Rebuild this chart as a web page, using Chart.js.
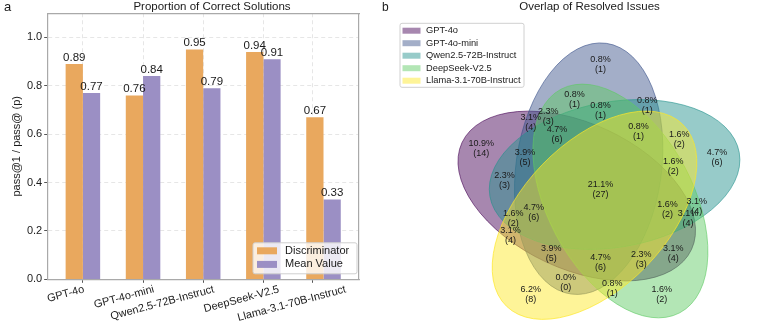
<!DOCTYPE html>
<html>
<head>
<meta charset="utf-8">
<script src="https://cdn.jsdelivr.net/npm/chart.js@4.4.1/dist/chart.umd.min.js"></script>
<style>
  html, body { margin: 0; padding: 0; background: #fff; overflow: hidden; }
  body { width: 761px; height: 325px; position: relative; }
  #barChart { position: absolute; left: 0; top: 0; }
  #vennChart { position: absolute; left: 375px; top: 0; }
</style>
</head>
<body>
<canvas id="barChart" width="424" height="325"></canvas>
<canvas id="vennChart" width="429" height="325"></canvas>
<script>
// ---- panel a data ----
const categories = ['GPT-4o', 'GPT-4o-mini', 'Qwen2.5-72B-Instruct', 'DeepSeek-V2.5', 'Llama-3.1-70B-Instruct'];
const discriminator = [0.89, 0.76, 0.95, 0.94, 0.67];
const meanValue = [0.77, 0.84, 0.79, 0.91, 0.33];
const yTicks = [0, 0.2, 0.4, 0.6, 0.8, 1.0];

// ---- panel b data (region key = membership in the 5 sets, in legend order) ----
const setNames = categories;
const regionKeys = ['00001', '00010', '00011', '00100', '00101', '00110', '00111', '01000', '01001', '01010',
                    '01100', '01110', '01111', '10000', '10001', '10010', '10011', '10100', '10101', '10110',
                    '10111', '11000', '11001', '11010', '11011', '11100', '11101', '11110', '11111'];
const regionPct = [6.2, 1.6, 0.8, 4.7, 1.6, 3.1, 1.6, 0.8, 0.0, 0.8,
                   0.8, 0.8, 0.8, 10.9, 3.1, 3.1, 2.3, 2.3, 1.6, 3.1,
                   1.6, 3.1, 3.9, 2.3, 4.7, 3.9, 4.7, 4.7, 21.1];
const regionCount = [8, 2, 1, 6, 2, 4, 2, 1, 0, 1,
                     1, 1, 1, 14, 4, 4, 3, 3, 2, 4,
                     2, 4, 5, 3, 6, 5, 6, 6, 27];

// ---- layout ----
const xTickPos = [0, 1, 2, 3, 3.82];
const xLabelPos = [0.02, 1.18, 2.18, 3.26, 4.37];
const vennShapes = [[0.428, 0.449, 155], [0.469, 0.543, 82], [0.558, 0.523, 10], [0.578, 0.432, 118], [0.489, 0.383, 46]];
const vennSize = [0.87, 0.50];
const petalPos = {
  '00001': [.27, .11], '00010': [.72, .11], '00011': [.55, .13], '00100': [.91, .58],
  '00101': [.78, .64], '00110': [.84, .41], '00111': [.76, .55], '01000': [.51, .90],
  '01001': [.39, .15], '01010': [.42, .78], '01011': [.50, .15], '01100': [.67, .76],
  '01101': [.70, .71], '01110': [.51, .74], '01111': [.64, .67], '10000': [.10, .61],
  '10001': [.20, .31], '10010': [.76, .25], '10011': [.65, .23], '10100': [.18, .50],
  '10101': [.21, .37], '10110': [.81, .37], '10111': [.74, .40], '11000': [.27, .70],
  '11001': [.34, .25], '11010': [.33, .72], '11011': [.51, .22], '11100': [.25, .58],
  '11101': [.28, .39], '11110': [.36, .66], '11111': [.51, .47]
};

const FONT = '"Liberation Sans", Arial, sans-serif';
const textColor = '#1a1a1a';
const spineColor = '#a9a9a9';
const gridColor = '#e0e0e0';
const barColors = ['#E9A85E', '#9B8FC4'];
const vennFill = ['rgba(68,1,84,0.47)', 'rgba(59,82,139,0.47)', 'rgba(33,145,140,0.47)',
                  'rgba(94,201,98,0.47)', 'rgba(253,231,37,0.47)'];
const vennEdge = ['rgba(68,1,84,0.6)', 'rgba(59,82,139,0.6)', 'rgba(33,145,140,0.6)',
                  'rgba(94,201,98,0.6)', 'rgba(253,231,37,0.7)'];

Chart.defaults.font.family = FONT;
Chart.defaults.color = textColor;

function roundRect(ctx, x, y, w, h, r) {
  ctx.beginPath();
  ctx.moveTo(x + r, y);
  ctx.arcTo(x + w, y, x + w, y + h, r);
  ctx.arcTo(x + w, y + h, x, y + h, r);
  ctx.arcTo(x, y + h, x, y, r);
  ctx.arcTo(x, y, x + w, y, r);
  ctx.closePath();
}

const barExtras = {
  id: 'barExtras',
  afterDraw(chart) {
    const { ctx, chartArea } = chart;
    ctx.save();
    // value labels
    ctx.font = '11.5px ' + FONT;
    ctx.fillStyle = textColor;
    ctx.textAlign = 'center';
    ctx.textBaseline = 'bottom';
    chart.data.datasets.forEach((ds, di) => {
      chart.getDatasetMeta(di).data.forEach((bar, i) => {
        ctx.fillText(ds.data[i].y.toFixed(2), bar.x, bar.y - 0.5);
      });
    });
    // legend, lower right inside the axes
    const lx = chartArea.right - 106, ly = chartArea.bottom - 36.5;
    roundRect(ctx, lx, ly, 104, 31, 2);
    ctx.fillStyle = 'rgba(255,255,255,0.8)';
    ctx.fill();
    ctx.strokeStyle = '#cfcfcf';
    ctx.lineWidth = 1;
    ctx.stroke();
    ctx.font = '11px ' + FONT;
    ctx.textAlign = 'left';
    ctx.textBaseline = 'middle';
    chart.data.datasets.forEach((ds, i) => {
      const cy = ly + 8 + i * 13.6;
      ctx.fillStyle = ds.backgroundColor;
      ctx.fillRect(lx + 4, cy - 3.5, 20, 7);
      ctx.fillStyle = textColor;
      ctx.fillText(ds.label, lx + 32, cy);
    });
    // panel letter
    ctx.font = '13px ' + FONT;
    ctx.textBaseline = 'alphabetic';
    ctx.fillText('a', 4, 10.5);
    ctx.restore();
  }
};

new Chart(document.getElementById('barChart'), {
  type: 'bar',
  data: {
    datasets: [
      { label: 'Discriminator', data: discriminator.map((v, i) => ({ x: i, y: v })), backgroundColor: barColors[0] },
      { label: 'Mean Value', data: meanValue.map((v, i) => ({ x: i, y: v })), backgroundColor: barColors[1] }
    ]
  },
  options: {
    responsive: false,
    animation: false,
    devicePixelRatio: 1,
    categoryPercentage: 0.7,
    barPercentage: 1.0,
    layout: { padding: 0 },
    plugins: {
      legend: { display: false },
      tooltip: { enabled: false },
      title: {
        display: true,
        text: 'Proportion of Correct Solutions',
        color: textColor,
        font: { size: 11.5, weight: 'normal', lineHeight: 1.15 },
        padding: { top: 0, bottom: 0 }
      }
    },
    scales: {
      x: {
        type: 'linear', position: 'bottom', min: -0.585, max: 4.59, bounds: 'data', offset: false, z: 1,
        grid: { offset: false, color: gridColor, lineWidth: 0.8, drawTicks: true, tickLength: 3.5,
                tickColor: '#555', tickWidth: 1, tickBorderDash: [] },
        border: { display: true, color: spineColor, width: 1.2, dash: [4, 3] },
        ticks: { display: false },
        afterBuildTicks: a => { a.ticks = xTickPos.map(v => ({ value: v })); },
        afterFit: a => { a.height = 3.5; }
      },
      xl: {
        type: 'linear', position: 'bottom', weight: 1, min: -0.585, max: 4.59, bounds: 'data', offset: false,
        grid: { display: false, drawTicks: false },
        border: { display: false },
        ticks: { autoSkip: false, minRotation: 15, maxRotation: 15, padding: 0, color: textColor,
                 font: { size: 11 }, callback: (v, i) => categories[i] },
        afterBuildTicks: a => { a.ticks = xLabelPos.map(v => ({ value: v })); },
        afterFit: a => { a.height = 42.2; }
      },
      xt: {
        type: 'linear', position: 'top', min: 0, max: 1,
        grid: { display: false, drawTicks: false },
        border: { display: true, color: spineColor, width: 1.2 },
        ticks: { display: false },
        afterFit: a => { a.height = 0; }
      },
      y: {
        type: 'linear', position: 'left', min: 0, max: 1.1, bounds: 'data', z: 1,
        grid: { color: gridColor, lineWidth: 0.8, drawTicks: true, tickLength: 3.5,
                tickColor: '#555', tickWidth: 1, tickBorderDash: [] },
        border: { display: true, color: spineColor, width: 1.2, dash: [4, 3] },
        ticks: { padding: 2, color: textColor, font: { size: 11 }, callback: v => v.toFixed(1) },
        afterBuildTicks: a => { a.ticks = yTicks.map(v => ({ value: v })); },
        afterFit: a => { a.width = 47.7; },
        title: { display: true, text: 'pass@1 / pass@ (p)', color: textColor, font: { size: 11 },
                 padding: { top: 10, bottom: 0 } }
      },
      yr: {
        type: 'linear', position: 'right', min: 0, max: 1,
        grid: { display: false, drawTicks: false },
        border: { display: true, color: spineColor, width: 1.2 },
        ticks: { display: false },
        afterFit: a => { a.width = 65; }
      }
    }
  },
  plugins: [barExtras]
});

// ---- panel b ----
const vennExtras = {
  id: 'vennExtras',
  beforeDatasetsDraw(chart) {
    const { ctx, scales: { x, y } } = chart;
    ctx.save();
    vennShapes.forEach(([cx, cy, angle], i) => {
      const px = x.getPixelForValue(cx), py = y.getPixelForValue(cy);
      const rx = x.getPixelForValue(cx + vennSize[0] / 2) - px;
      const ry = py - y.getPixelForValue(cy + vennSize[1] / 2);
      ctx.beginPath();
      ctx.ellipse(px, py, rx, ry, -angle * Math.PI / 180, 0, Math.PI * 2);
      ctx.fillStyle = chart.data.datasets[i].backgroundColor;
      ctx.fill();
      ctx.strokeStyle = chart.data.datasets[i].borderColor;
      ctx.lineWidth = 1;
      ctx.stroke();
    });
    ctx.restore();
  },
  afterDatasetsDraw(chart) {
    const { ctx, scales: { x, y } } = chart;
    ctx.save();
    ctx.font = '9px ' + FONT;
    ctx.fillStyle = textColor;
    ctx.textAlign = 'center';
    ctx.textBaseline = 'middle';
    regionKeys.forEach((key, i) => {
      const [vx, vy] = petalPos[key];
      const px = x.getPixelForValue(vx), py = y.getPixelForValue(vy);
      ctx.fillText(regionPct[i].toFixed(1) + '%', px, py - 5.5);
      ctx.fillText('(' + regionCount[i] + ')', px, py + 4.5);
    });
    // legend, upper left
    const lx = 25, ly = 23.3;
    roundRect(ctx, lx, ly, 124, 64, 2);
    ctx.fillStyle = 'rgba(255,255,255,0.85)';
    ctx.fill();
    ctx.strokeStyle = '#d0d0d0';
    ctx.lineWidth = 1;
    ctx.stroke();
    ctx.font = '9.3px ' + FONT;
    ctx.textAlign = 'left';
    chart.data.datasets.forEach((ds, i) => {
      const cy = ly + 7.4 + i * 12.5;
      ctx.fillStyle = ds.backgroundColor;
      ctx.fillRect(lx + 2.5, cy - 3, 18, 6);
      ctx.fillStyle = textColor;
      ctx.fillText(ds.label, lx + 26, cy);
    });
    ctx.font = '12px ' + FONT;
    ctx.textBaseline = 'alphabetic';
    ctx.fillText('b', 7, 10.5);
    ctx.restore();
  }
};

new Chart(document.getElementById('vennChart'), {
  type: 'scatter',
  data: {
    datasets: setNames.map((name, i) => ({
      label: name, data: [], backgroundColor: vennFill[i], borderColor: vennEdge[i]
    }))
  },
  options: {
    responsive: false,
    animation: false,
    devicePixelRatio: 1,
    layout: { padding: 0 },
    plugins: {
      legend: { display: false },
      tooltip: { enabled: false },
      title: {
        display: true,
        text: 'Overlap of Resolved Issues',
        color: textColor,
        font: { size: 11.5, weight: 'normal', lineHeight: 1.15 },
        padding: { top: 0, bottom: 0 }
      }
    },
    scales: {
      x: { type: 'linear', display: false, min: -0.2653, max: 1.2089, bounds: 'data' },
      y: { type: 'linear', display: false, min: 0.0058, max: 1.0773, bounds: 'data' }
    }
  },
  plugins: [vennExtras]
});
</script>
</body>
</html>
